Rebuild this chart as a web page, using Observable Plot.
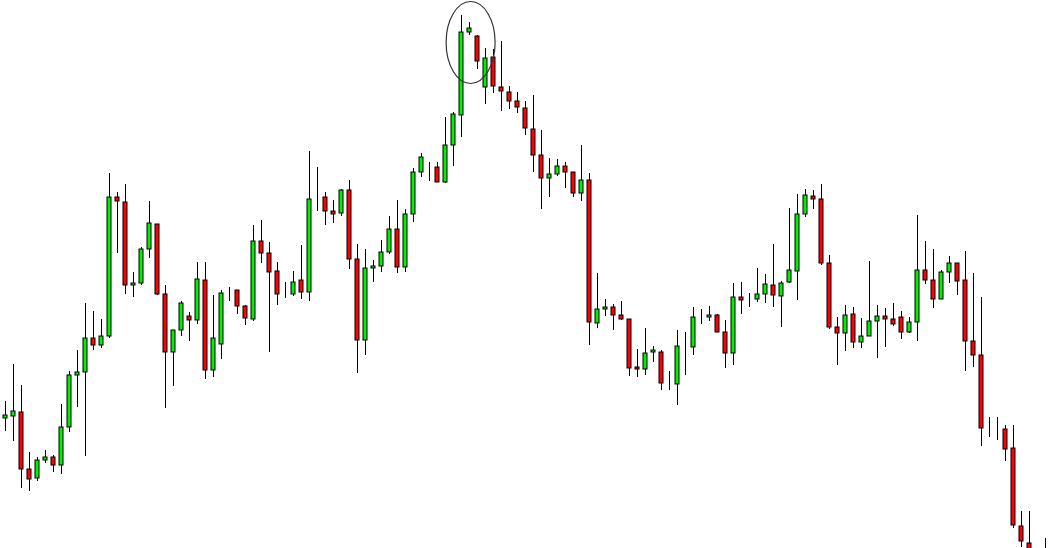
<!DOCTYPE html>
<html>
<head>
<meta charset="utf-8">
<script src="https://cdn.jsdelivr.net/npm/d3@7"></script>
<script src="https://cdn.jsdelivr.net/npm/@observablehq/plot@0.6"></script>
<style>
html,body{margin:0;padding:0;background:#fff;overflow:hidden}
svg{display:block}
</style>
</head>
<body>
<div id="chart"></div>
<script>
// Bar numbers (bar 129 lies entirely below the visible area)
const bar = [...d3.range(0, 129), 130];

const open = [
1.2882,1.2884,1.2888,1.2831,1.2822,1.2840,1.2843,1.2835,1.2873,1.2925,
1.2928,1.2962,1.2955,1.2964,1.3103,1.3098,1.3015,1.3017,1.3051,1.3076,
1.3006,1.2948,1.2970,1.2984,1.2980,1.3020,1.2930,1.2956,1.3008,1.3010,
1.2994,1.2981,1.3059,1.3047,1.3029,1.3006,1.3006,1.3020,1.3008,1.3102,
1.3103,1.3089,1.3087,1.3110,1.3041,1.2960,1.3032,1.3034,1.3048,1.3071,
1.3033,1.3086,1.3128,1.3132,1.3133,1.3118,1.3155,1.3185,1.3268,1.3264,
1.3213,1.3243,1.3213,1.3208,1.3199,1.3192,1.3171,1.3145,1.3122,1.3126,
1.3134,1.3128,1.3107,1.3120,1.2977,1.2991,1.2993,1.2985,1.2981,1.2933,
1.2931,1.2948,1.2948,1.2916,1.2916,1.2953,1.2953,1.2983,1.2983,1.2985,
1.2968,1.2947,1.3003,1.3001,1.3001,1.3006,1.3015,1.3004,1.3018,1.3029,
1.3086,1.3104,1.3101,1.3037,1.2973,1.2967,1.2986,1.2958,1.2964,1.2979,
1.2984,1.2981,1.2983,1.2968,1.2978,1.3030,1.3020,1.3001,1.3028,1.3037,
1.3020,1.2959,1.2945,1.2872,1.2871,1.2871,1.2852,1.2774,1.2757,1.2748
];
const high = [
1.2899,1.2936,1.2915,1.2848,1.2843,1.2850,1.2845,1.2896,1.2929,1.2950,
1.2997,1.2989,1.2981,1.3127,1.3108,1.3116,1.3028,1.3053,1.3099,1.3076,
1.3015,1.2970,1.2999,1.2988,1.3038,1.3038,1.3005,1.3010,1.3013,1.3010,
1.2995,1.3075,1.3080,1.3058,1.3038,1.3018,1.3029,1.3055,1.3149,1.3133,
1.3108,1.3100,1.3111,1.3120,1.3056,1.3051,1.3040,1.3060,1.3084,1.3100,
1.3091,1.3132,1.3147,1.3138,1.3138,1.3183,1.3188,1.3285,1.3278,1.3265,
1.3252,1.3251,1.3259,1.3214,1.3208,1.3199,1.3205,1.3170,1.3142,1.3141,
1.3138,1.3128,1.3155,1.3127,1.3027,1.3001,1.2996,1.2999,1.2981,1.2951,
1.2972,1.2954,1.2950,1.2929,1.2970,1.2968,1.2993,1.2991,1.2994,1.2986,
1.2980,1.3017,1.3018,1.3007,1.3032,1.3026,1.3056,1.3019,1.3092,1.3106,
1.3111,1.3110,1.3116,1.3045,1.2983,1.2995,1.2993,1.2982,1.3039,1.2995,
1.2992,1.2997,1.2989,1.2983,1.3085,1.3059,1.3051,1.3030,1.3044,1.3037,
1.3049,1.3027,1.3003,1.2883,1.2883,1.2875,1.2875,1.2789,1.2789,1.2762
];
const low = [
1.2869,1.2859,1.2812,1.2809,1.2819,1.2837,1.2828,1.2826,1.2868,1.2893,
1.2844,1.2950,1.2952,1.2962,1.3047,1.3006,1.3003,1.3015,1.3042,1.3005,
1.2892,1.2914,1.2964,1.2959,1.2976,1.2921,1.2923,1.2941,1.2999,1.2986,
1.2975,1.2979,1.3037,1.2948,1.2995,1.3002,1.3004,1.3001,1.2999,1.3089,
1.3075,1.3077,1.3084,1.3031,1.2927,1.2945,1.3018,1.3028,1.3046,1.3027,
1.3028,1.3078,1.3123,1.3119,1.3118,1.3117,1.3134,1.3163,1.3265,1.3231,
1.3196,1.3207,1.3189,1.3191,1.3187,1.3165,1.3128,1.3091,1.3103,1.3124,
1.3112,1.3103,1.3099,1.2955,1.2972,1.2984,1.2970,1.2980,1.2924,1.2923,
1.2925,1.2938,1.2910,1.2910,1.2895,1.2925,1.2945,1.2976,1.2979,1.2968,
1.2932,1.2935,1.2986,1.2993,1.2998,1.2997,1.2993,1.2973,1.3017,1.3000,
1.3083,1.3091,1.3035,1.2971,1.2935,1.2949,1.2952,1.2952,1.2964,1.2942,
1.2953,1.2974,1.2961,1.2967,1.2959,1.3016,1.2992,1.3001,1.3017,1.3005,
1.2929,1.2933,1.2854,1.2863,1.2860,1.2839,1.2772,1.2753,1.2735,1.2725
];
const close = [
1.2885,1.2889,1.2831,1.2821,1.2840,1.2843,1.2835,1.2873,1.2925,1.2928,
1.2962,1.2955,1.2964,1.3103,1.3099,1.3015,1.3017,1.3051,1.3077,1.3006,
1.2948,1.2970,1.2997,1.2980,1.3021,1.2930,1.2962,1.3007,1.3008,1.2994,
1.2982,1.3059,1.3047,1.3028,1.3006,1.3006,1.3018,1.3008,1.3101,1.3102,
1.3089,1.3086,1.3110,1.3041,1.2960,1.3032,1.3034,1.3048,1.3071,1.3033,
1.3086,1.3128,1.3143,1.3132,1.3118,1.3155,1.3186,1.3268,1.3272,1.3239,
1.3242,1.3214,1.3209,1.3199,1.3193,1.3172,1.3145,1.3122,1.3126,1.3134,
1.3128,1.3107,1.3120,1.2978,1.2991,1.2993,1.2985,1.2981,1.2932,1.2931,
1.2947,1.2950,1.2917,1.2916,1.2954,1.2953,1.2983,1.2983,1.2985,1.2968,
1.2947,1.3003,1.3000,1.3001,1.3006,1.3016,1.3005,1.3017,1.3030,1.3086,
1.3105,1.3101,1.3037,1.2973,1.2967,1.2985,1.2958,1.2964,1.2979,1.2984,
1.2981,1.2976,1.2968,1.2978,1.3030,1.3020,1.3001,1.3028,1.3037,1.3019,
1.2959,1.2945,1.2872,1.2872,1.2871,1.2851,1.2775,1.2759,1.2744,1.2730
];

// Circled annotation around the top of the move
const highlight = {bar: 58.2, price: 1.32575, rx: 24.5, ry: 41};

const upColor = "#00ee00";
const downColor = "#ff0000";

const candles = bar.map((b, i) => ({bar: b, open: open[i], high: high[i], low: low[i], close: close[i]}));

const W = 1052, H = 548, step = 8, first = 5;
const chart = Plot.plot({
  width: W,
  height: H,
  margin: 0,
  style: {background: "#fff"},
  x: {type: "linear", domain: [-first / step, (W - first) / step], axis: null},
  y: {domain: [1.2752, 1.3300], axis: null},
  marks: [
    Plot.ruleX(candles, {x: "bar", y1: "low", y2: "high", stroke: "#000", strokeWidth: 1, clip: true}),
    Plot.rect(candles, {
      x1: d => d.bar - 0.25,
      x2: d => d.bar + 0.25,
      y1: "open",
      y2: "close",
      fill: d => d.close > d.open ? upColor : d.close < d.open ? downColor : "#000",
      stroke: "#000",
      strokeWidth: 1,
      clip: true
    })
  ]
});

const xs = chart.scale("x"), ys = chart.scale("y");
d3.select(chart).append("ellipse")
  .attr("cx", xs.apply(highlight.bar))
  .attr("cy", ys.apply(highlight.price))
  .attr("rx", highlight.rx)
  .attr("ry", highlight.ry)
  .attr("fill", "none")
  .attr("stroke", "#333")
  .attr("stroke-width", 1.2);

document.getElementById("chart").appendChild(chart);
</script>
</body>
</html>
